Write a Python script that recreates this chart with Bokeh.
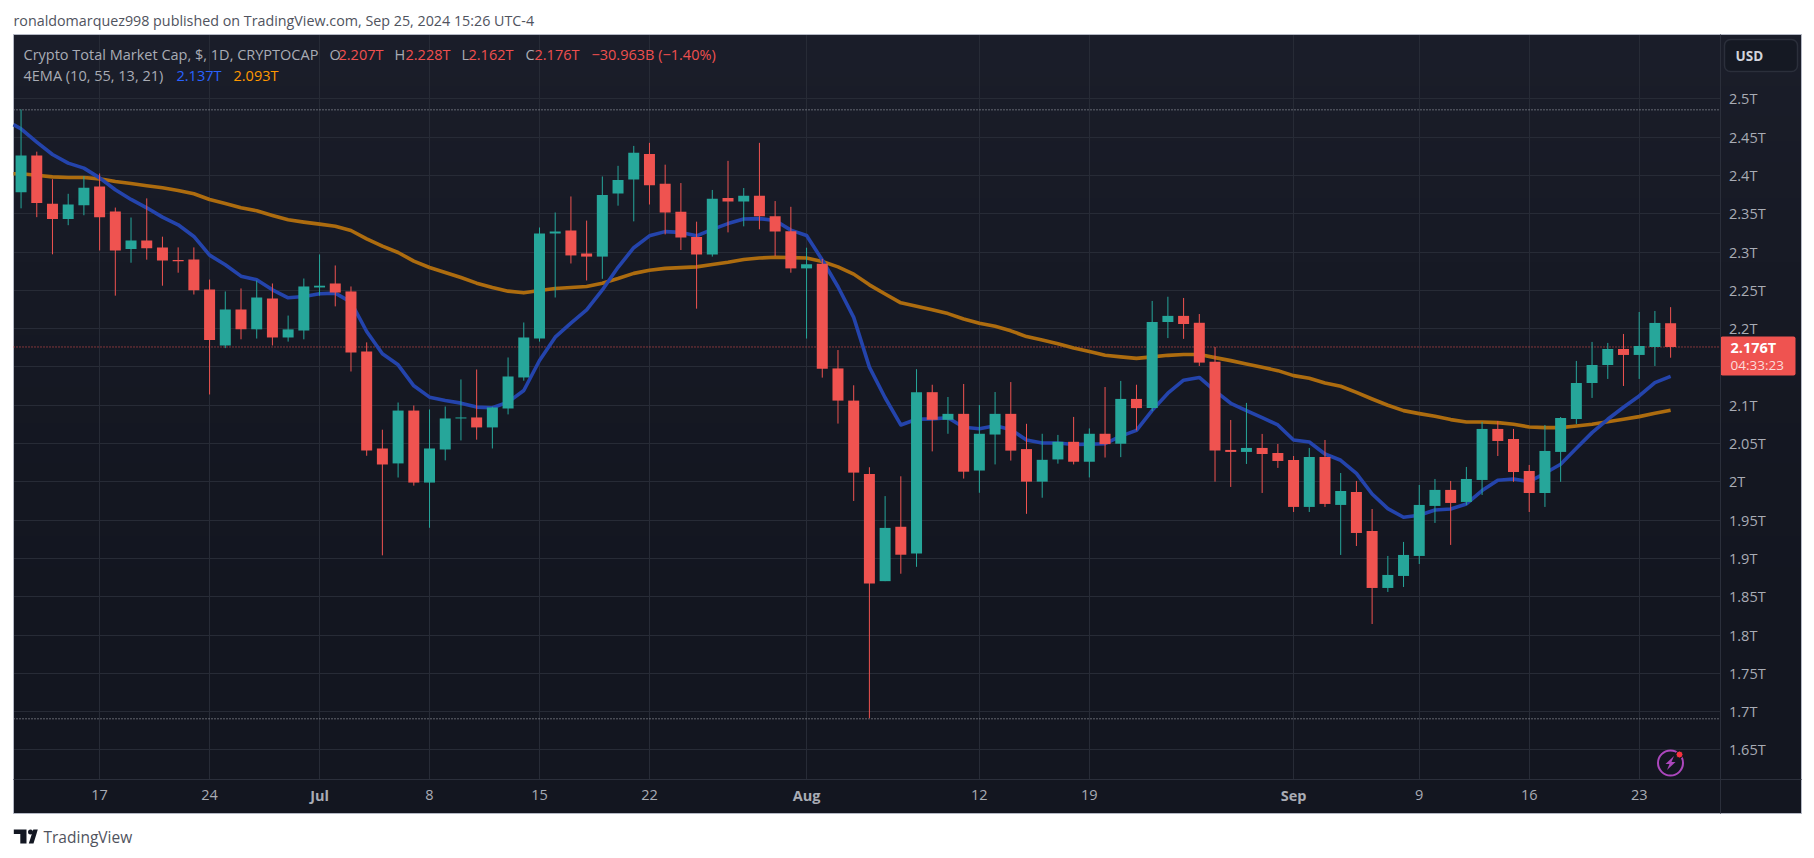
import numpy as np
from bokeh.plotting import figure
from bokeh.embed import file_html
from bokeh.resources import INLINE
from bokeh.models import (Label, LinearAxis, FixedTicker, Grid, Range1d)

open_ = [2.378,2.426,2.363,2.343,2.361,2.3855,2.353,2.304,2.315,2.306,2.2895,2.2902,2.251,2.178,2.225,2.199,2.2393,2.1884,2.1975,2.2537,2.2589,2.2485,2.170,2.0435,2.024,2.093,1.999,2.0422,2.0827,2.084,2.071,2.0957,2.1362,2.187,2.324,2.328,2.298,2.294,2.3765,2.3945,2.428,2.389,2.3526,2.3196,2.2966,2.3705,2.366,2.3735,2.3466,2.327,2.2786,2.2846,2.148,2.106,2.0102,1.8703,1.9413,1.9063,2.117,2.081,2.0887,2.0147,2.0617,2.0887,2.0427,2.0002,2.0292,2.0522,2.0262,2.0627,2.0497,2.1082,2.0962,2.2086,2.2166,2.2076,2.1566,2.0416,2.039,2.0442,2.0376,2.0285,1.9672,2.0324,1.9698,1.9867,1.9358,1.8614,1.8771,1.9032,1.9685,1.9894,1.9737,2.0024,2.069,2.0559,2.0141,1.9854,2.039,2.082,2.129,2.1525,2.1734,2.1656,2.176,2.207]
high = [2.486,2.431,2.395,2.376,2.399,2.4025,2.358,2.345,2.370,2.320,2.306,2.306,2.264,2.2485,2.2524,2.2628,2.2589,2.217,2.2654,2.2968,2.2824,2.255,2.182,2.068,2.1035,2.0996,2.0944,2.0983,2.1336,2.1466,2.098,2.1623,2.208,2.332,2.3516,2.3725,2.341,2.3986,2.4125,2.4385,2.4425,2.414,2.390,2.3396,2.381,2.419,2.3835,2.4425,2.3665,2.359,2.3056,2.291,2.172,2.126,2.019,1.9813,2.0072,2.147,2.1267,2.1107,2.1277,2.1002,2.1172,2.1302,2.0757,2.0627,2.0612,2.0847,2.0697,2.1237,2.1317,2.1267,2.2361,2.2416,2.24,2.219,2.176,2.0807,2.103,2.0625,2.0494,2.0337,2.0442,2.0546,2.0115,2.0011,1.9645,1.9032,1.9215,1.9959,2.0037,2.0011,2.0194,2.0781,2.0794,2.069,2.022,2.0742,2.0846,2.1578,2.1826,2.1813,2.193,2.2217,2.223,2.228]
low = [2.357,2.3455,2.297,2.335,2.348,2.302,2.243,2.286,2.290,2.256,2.273,2.2445,2.114,2.1745,2.186,2.187,2.178,2.183,2.186,2.243,2.229,2.144,2.034,1.904,2.0056,1.995,1.940,2.028,2.054,2.055,2.0435,2.088,2.132,2.183,2.2406,2.285,2.2628,2.265,2.3605,2.340,2.362,2.323,2.3026,2.226,2.294,2.3256,2.3335,2.3296,2.2946,2.273,2.187,2.136,2.076,1.975,1.6914,1.8703,1.880,1.889,2.0397,2.0627,2.0042,1.9857,2.0227,2.0277,1.9582,1.9792,2.0237,2.0227,2.0057,2.0317,2.0322,2.0672,2.0922,2.1876,2.1866,2.1512,2.0002,1.9933,2.0233,1.9854,2.0181,1.9606,1.9606,1.9672,1.9045,1.9162,1.8144,1.8562,1.8627,1.8927,1.9463,1.9176,1.9698,1.9828,2.0337,2.0,1.9606,1.9672,2.0,2.0755,2.1095,2.1343,2.1251,2.1343,2.1512,2.162]
close = [2.426,2.364,2.343,2.362,2.384,2.3455,2.302,2.315,2.305,2.289,2.288,2.250,2.185,2.225,2.199,2.2406,2.1884,2.199,2.255,2.256,2.2471,2.1688,2.0409,2.0226,2.093,1.999,2.0435,2.0827,2.084,2.071,2.097,2.1375,2.1884,2.324,2.3268,2.2955,2.294,2.3745,2.394,2.4295,2.387,2.3516,2.319,2.2966,2.3695,2.366,2.3735,2.3466,2.3266,2.2786,2.284,2.1477,2.106,2.012,1.8673,1.9398,1.9048,2.117,2.081,2.0887,2.0132,2.0627,2.0887,2.0407,2.0002,2.0287,2.0522,2.0262,2.0627,2.0492,2.1082,2.0962,2.2086,2.2166,2.206,2.1556,2.0407,2.039,2.0442,2.0363,2.0272,1.9672,2.0324,1.9711,1.988,1.9332,1.8614,1.8784,1.9045,1.9698,1.9894,1.9724,2.0037,2.069,2.0533,2.0128,1.9854,2.0403,2.0833,2.129,2.1525,2.1734,2.1656,2.1773,2.2074,2.176]

ema_fast = [2.472,2.4608,2.4434,2.4273,2.416,2.4095,2.3968,2.3812,2.3686,2.3577,2.3455,2.3355,2.3203,2.2959,2.2833,2.2685,2.2637,2.2506,2.2402,2.2419,2.2454,2.2463,2.2345,2.1962,2.1671,2.1527,2.1253,2.1105,2.1062,2.1027,2.0975,2.0966,2.104,2.1192,2.1584,2.1888,2.2071,2.2245,2.2505,2.28,2.3056,2.3211,2.3266,2.3256,2.3211,2.3296,2.3371,2.343,2.3436,2.3411,2.3286,2.3216,2.2896,2.2546,2.2146,2.1497,2.1097,2.0742,2.0817,2.0822,2.0837,2.0712,2.0692,2.0732,2.0682,2.0547,2.0507,2.0507,2.0487,2.0492,2.0497,2.0597,2.0672,2.0932,2.1157,2.1327,2.1362,2.1187,2.1025,2.0929,2.0838,2.0742,2.0546,2.052,2.0363,2.0281,2.0111,1.9841,1.965,1.9537,1.9563,1.9632,1.9645,1.9711,1.9885,2.002,2.0037,2.0002,2.0111,2.0229,2.0437,2.0642,2.0816,2.0973,2.1121,2.1295,2.1377]
ema_slow = [2.4021,2.4021,2.4003,2.3981,2.3973,2.3973,2.3955,2.392,2.3894,2.3864,2.3838,2.3803,2.376,2.3686,2.3633,2.3577,2.3538,2.3477,2.342,2.339,2.3364,2.3337,2.3281,2.3172,2.3076,2.2994,2.2881,2.2798,2.2733,2.2667,2.2593,2.2537,2.2489,2.2467,2.2498,2.2524,2.2537,2.255,2.2593,2.2653,2.2721,2.2761,2.2786,2.2796,2.2806,2.2836,2.2866,2.2901,2.2921,2.2931,2.2926,2.2921,2.2876,2.2806,2.2711,2.2571,2.2451,2.2336,2.2291,2.2246,2.2196,2.2126,2.2071,2.2031,2.1971,2.1896,2.1851,2.1801,2.1746,2.1701,2.1651,2.1631,2.1611,2.1631,2.1651,2.1661,2.1661,2.1621,2.1582,2.1538,2.1495,2.1451,2.1386,2.1351,2.129,2.1247,2.1168,2.1081,2.0999,2.0929,2.089,2.0855,2.0812,2.0781,2.0781,2.0772,2.0751,2.0716,2.0707,2.0707,2.0729,2.0751,2.0785,2.0816,2.0851,2.0894,2.0933]

price_ticks = [2.5,2.45,2.4,2.35,2.3,2.25,2.2,2.15,2.1,2.05,2.0,1.95,1.9,1.85,1.8,1.75,1.7,1.65]
price_labels = ["2.5T","2.45T","2.4T","2.35T","2.3T","2.25T","2.2T","","2.1T","2.05T","2T","1.95T","1.9T","1.85T","1.8T","1.75T","1.7T","1.65T"]
day_ticks = [5,12,26,33,40,61,68,89,96,103]
day_labels = ["17","24","8","15","22","12","19","9","16","23"]
month_ticks = [19,50,81]
month_labels = ["Jul","Aug","Sep"]
last_price = 2.176
period_high = 2.4856
period_low = 1.6906

FONT = "Open Sans"
GRID = "#272b36"
TXT = "#a9acb5"
UP, DOWN = "#26a69a", "#ef5350"

# page-pixel <-> data helpers
def X(px): return (px - 20.56) / 15.71
def Y(py): return 2.5 - (py - 98.3) / 766.0

L, R, T, B = 13, 1801, 34, 813
PANE_R, PANE_B = 1719.5, 779
W, H = 1810, 850

p = figure(width=W, height=H, output_backend="svg", toolbar_location=None,
           x_range=Range1d(X(0), X(W)), y_range=Range1d(Y(H), Y(0)),
           min_border_left=0, min_border_right=0, min_border_top=0, min_border_bottom=0,
           x_axis_type=None, y_axis_type=None,
           background_fill_color="#ffffff", border_fill_color="#ffffff",
           outline_line_color=None)
p.grid.visible = False

# vertical gradient background
N = 256
c0, c1 = np.array([0x1b,0x1e,0x2a]), np.array([0x13,0x16,0x20])
img = np.zeros((N, 2), dtype=np.uint32)
view = img.view(dtype=np.uint8).reshape((N, 2, 4))
for r in range(N):
    col = c1 + (c0 - c1) * (r / (N-1)) ** 2
    view[r, :, 0:3] = col.astype(np.uint8)
    view[r, :, 3] = 255
p.image_rgba(image=[img], x=X(L), y=Y(B), dw=X(R)-X(L), dh=Y(T)-Y(B), level="image")

# axes
ay = LinearAxis(ticker=FixedTicker(ticks=price_ticks),
                major_label_overrides={t: l for t, l in zip(price_ticks, price_labels)},
                fixed_location=X(PANE_R), bounds=(Y(B), Y(T)), axis_line_color="#2b2f3b", axis_line_width=1,
                major_tick_line_color=None, minor_tick_line_color=None,
                major_label_text_color=TXT, major_label_text_font=FONT,
                major_label_text_font_size="14.5px", major_label_standoff=3)
p.add_layout(ay, "right")
ax = LinearAxis(ticker=FixedTicker(ticks=day_ticks),
                major_label_overrides={t: l for t, l in zip(day_ticks, day_labels)},
                fixed_location=Y(PANE_B), bounds=(X(L), X(R)), axis_line_color="#2b2f3b", axis_line_width=1,
                major_tick_line_color=None, minor_tick_line_color=None,
                major_label_text_color=TXT, major_label_text_font=FONT,
                major_label_text_font_size="14.5px", major_label_standoff=4)
p.add_layout(ax, "below")
ax2 = LinearAxis(ticker=FixedTicker(ticks=month_ticks),
                 major_label_overrides={t: l for t, l in zip(month_ticks, month_labels)},
                 fixed_location=Y(PANE_B), bounds=(X(L), X(R)), axis_line_color=None,
                 major_tick_line_color=None, minor_tick_line_color=None,
                 major_label_text_color=TXT, major_label_text_font=FONT,
                 major_label_text_font_style="bold",
                 major_label_text_font_size="14.5px", major_label_standoff=0)
p.add_layout(ax2, "below")

gv = Grid(dimension=0, ticker=FixedTicker(ticks=sorted(day_ticks + month_ticks)), grid_line_color=GRID,
          cross_bounds=(Y(PANE_B), Y(T)))
gh = Grid(dimension=1, ticker=FixedTicker(ticks=price_ticks), grid_line_color=GRID,
          cross_bounds=(X(L), X(PANE_R)))
p.add_layout(gv); p.add_layout(gh)

# frame outline
p.quad(left=[X(L)], right=[X(R)], top=[Y(T)], bottom=[Y(B)], fill_color=None, line_color="#b4b8c4", line_width=1)

# high / low / last price lines
p.segment(x0=[X(L)]*2, x1=[X(PANE_R)]*2, y0=[period_high, period_low], y1=[period_high, period_low],
          line_color="#b2b5be", line_width=1, line_dash="1 2")
p.segment(x0=[X(L)], x1=[X(PANE_R)], y0=[last_price], y1=[last_price],
          line_color=DOWN, line_width=1, line_dash="1 2")

# EMAs under the candles
xl = np.arange(-1, 106)
keep = xl >= X(L)  # start at the pane's left edge
sx = np.r_[X(L), xl[keep]]
def clip_start(vals):
    t = (X(L) - xl[0]) / (xl[1] - xl[0])
    v0 = vals[0] + (vals[1] - vals[0]) * t
    return np.r_[v0, np.array(vals)[keep]]
p.line(sx, clip_start(ema_slow), line_color="#ad6c0f", line_width=3.6, line_join="round")
p.line(sx, clip_start(ema_fast), line_color="#2444ac", line_width=3.6, line_join="round")

# candles
x = np.arange(len(open_))
o, h, l, c = map(np.array, (open_, high, low, close))
col = [UP if cc >= oo else DOWN for oo, cc in zip(open_, close)]
p.segment(x0=x, x1=x, y0=l, y1=h, line_color=col, line_width=1)
p.vbar(x=x, width=0.70, bottom=np.minimum(o, c), top=np.maximum(o, c), fill_color=col, line_color=None)

# USD button and last-price tag
p.quad(left=[X(1724)], right=[X(1797)], top=[Y(39)], bottom=[Y(71)], fill_color="#151923",
       line_color="#2b2f3b", line_width=1.5, border_radius=6)
p.quad(left=[X(1720)], right=[X(1795)], top=[Y(336)], bottom=[Y(375)], fill_color=DOWN,
       line_color=None, border_radius=2)

# lightning icon
icx, icy = 1670, 762.5
p.scatter([X(icx)], [Y(icy)], size=25, marker="circle", fill_color=None, line_color="#ab47bc", line_width=2)
bolt_x = [3.5,-5,-1,-3.5,5,1]
bolt_y = [-7,1,1,7,-1,-1]
p.patch([X(icx+a) for a in bolt_x], [Y(icy+b) for b in bolt_y], fill_color="#ab47bc", line_color=None)
p.scatter([X(1679)], [Y(754)], size=7, marker="circle", fill_color="#f7323f", line_color="#151822", line_width=1)

def txt(s, px, py, color=TXT, size=14.5, bold=False, align="left"):
    p.add_layout(Label(x=X(px), y=Y(py), text=s, text_color=color, text_font=FONT,
                       text_font_size=f"{size}px", text_baseline="middle", text_align=align,
                       text_font_style="bold" if bold else "normal"))

txt("ronaldomarquez998 published on TradingView.com, Sep 25, 2024 15:26 UTC-4", 13, 19.5, "#50535e", 14.3)
txt("Crypto Total Market Cap, $, 1D, CRYPTOCAP", 23, 54)
RED = "#f0504f"
for s, px, cc in [("O",329,TXT),("2.207T",338,RED),("H",394,TXT),("2.228T",405,RED),("L",461,TXT),
                  ("2.162T",468,RED),("C",525,TXT),("2.176T",534,RED),("\u221230.963B (\u22121.40%)",591,RED)]:
    txt(s, px, 54, cc)
txt("4EMA (10, 55, 13, 21)", 23, 75)
txt("2.137T", 176, 75, "#2962ff")
txt("2.093T", 233, 75, "#ff9800")
txt("USD", 1735, 55, "#d1d4dc", 13.5, True)
txt("2.176T", 1730, 346.5, "#ffffff", 14.5, True)
txt("04:33:23", 1730, 364.5, "#fbdcdb", 13.5)
txt("TradingView", 43, 836, "#50535e", 15.5)

# TradingView logo
LOGO = "#131722"
p.patch([X(v) for v in [13.3,26,26,19.8,19.8,13.3]], [Y(v) for v in [829,829,843,843,833.6,833.6]],
        fill_color=LOGO, line_color=None)
p.patch([X(v) for v in [37.3,33,28.3,32.8]], [Y(v) for v in [829,843,843,829]], fill_color=LOGO, line_color=None)
p.scatter([X(30)], [Y(831.5)], size=5, marker="circle", fill_color=LOGO, line_color=None)

open("out.html", "w").write(file_html(p, INLINE))
